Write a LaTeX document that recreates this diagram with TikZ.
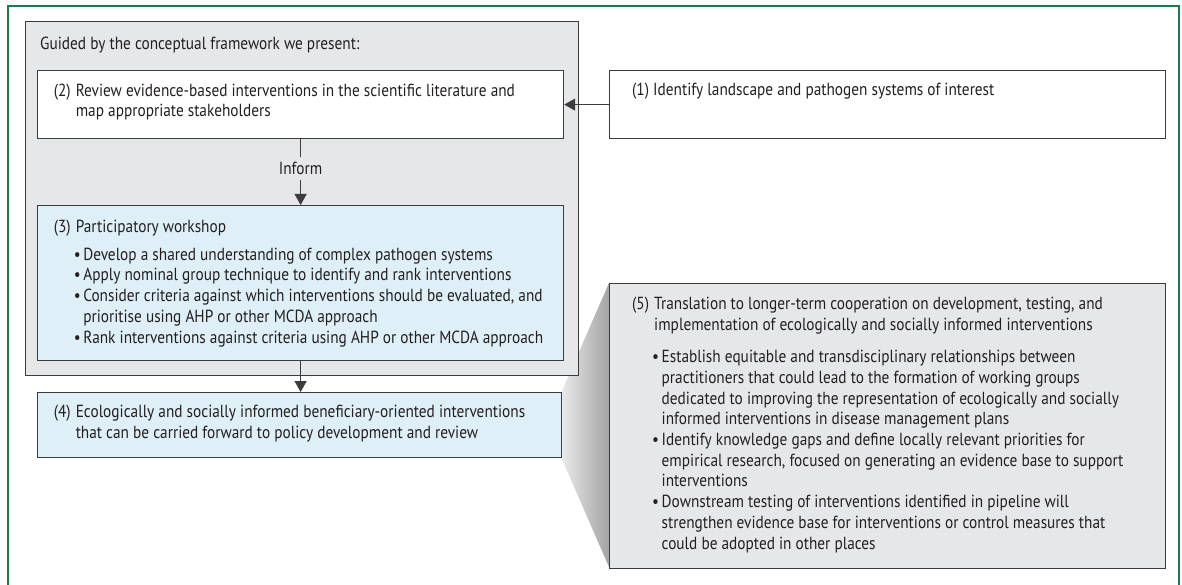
\documentclass[tikz,border=0pt]{standalone}
\usepackage{fontspec}
\setmainfont{PT Sans}[FakeStretch=0.875]
\usetikzlibrary{arrows.meta}
\definecolor{framegreen}{RGB}{28,122,78}
\definecolor{panelgray}{RGB}{230,231,233}
\definecolor{panelblue}{RGB}{222,239,247}
\definecolor{edgegray}{RGB}{60,60,62}
\definecolor{inkcol}{RGB}{35,31,32}
\newcommand{\lbl}[1]{\makebox[22pt][l]{#1}}
\newcommand{\hng}{\hspace*{22pt}}
\newcommand{\bul}{\makebox[7.5pt][l]{\kern-2pt•}}
\newcommand{\bhng}{\hspace*{7.5pt}}
\begin{document}
\begin{tikzpicture}[x=1pt,y=-1pt,
  boxshape/.style={draw=edgegray, line width=1.2pt, rectangle, inner sep=0pt, anchor=north west},
  txt/.style={align=left, anchor=west, inner sep=0pt, text=inkcol,
    font=\fontsize{17.5}{20.7}\selectfont},
  conn/.style={draw=edgegray, line width=1.2pt},
  tip/.style={-{Triangle[length=11pt,width=12pt]}}
]
\useasboundingbox (0,0) rectangle (1182,585);
\fill[white] (0,0) rectangle (1182,585);
% green frame (open at the bottom, runs past the page edge)
\draw[framegreen, line width=1.4pt] (8,595) -- (8,6) -- (1179,6) -- (1179,595);

% shaded wedge behind box 5
\shade[left color=white, right color=black!36] (547,425) -- (609,283) -- (609,567) -- cycle;

% outer gray panel
\node[boxshape, fill=panelgray, minimum width=553pt, minimum height=354pt] (outer) at (25,21) {};
\node[txt] (guided) at (40,45) {Guided by the conceptual framework we present:};

% box 2
\node[boxshape, fill=white, minimum width=526pt, minimum height=68pt] (b2) at (37,70) {};
\node[txt] (t2) at (53.6,102.3) {\strut\lbl{(2)}Review evidence-based interventions in the scientific literature and\\
\hng map appropriate stakeholders\strut};

% box 1
\node[boxshape, fill=white, minimum width=556pt, minimum height=68pt] (b1) at (609,70) {};
\node[txt] (t1) at (632,91.7) {\strut(1) Identify landscape and pathogen systems of interest\strut};

% box 3
\node[boxshape, fill=panelblue, minimum width=526pt, minimum height=155pt] (b3) at (37,205) {};
\node[txt] (t3) at (53.6,283.7) {\strut\lbl{(3)}Participatory workshop\\[7pt]
\hng\bul Develop a shared understanding of complex pathogen systems\\
\hng\bul Apply nominal group technique to identify and rank interventions\\
\hng\bul Consider criteria against which interventions should be evaluated, and\\
\hng\bhng prioritise using AHP or other MCDA approach\\
\hng\bul Rank interventions against criteria using AHP or other MCDA approach\strut};

% box 4
\node[boxshape, fill=panelblue, minimum width=524pt, minimum height=65pt] (b4) at (37,392) {};
\node[txt] (t4) at (53.6,424.2) {\strut\lbl{(4)}Ecologically and socially informed beneficiary-oriented interventions\\
\hng that can be carried forward to policy development and review\strut};

% box 5
\node[boxshape, fill=panelgray, minimum width=556pt, minimum height=285pt] (b5) at (609,283) {};
\node[txt] (t5) at (632,425.3) {\strut\lbl{(5)}Translation to longer-term cooperation on development, testing, and\\
\hng implementation of ecologically and socially informed interventions\\[11.6pt]
\hng\bul Establish equitable and transdisciplinary relationships between\\
\hng\bhng practitioners that could lead to the formation of working groups\\
\hng\bhng dedicated to improving the representation of ecologically and socially\\
\hng\bhng informed interventions in disease management plans\\
\hng\bul Identify knowledge gaps and define locally relevant priorities for\\
\hng\bhng empirical research, focused on generating an evidence base to support\\
\hng\bhng interventions\\
\hng\bul Downstream testing of interventions identified in pipeline will\\
\hng\bhng strengthen evidence base for interventions or control measures that\\
\hng\bhng could be adopted in other places\strut};

% connectors
\draw[conn, tip] (b1.west) -- (b2.east);
\draw[conn, tip] (b2.south) -- node[pos=0.45, fill=panelgray, inner xsep=2pt, inner ysep=5pt, text height=12pt, text depth=1pt, text=inkcol, font=\fontsize{17.5}{20.7}\selectfont] (inform) {Inform} (b3.north);
\draw[conn, tip] (b3.south) -- (b3.south |- b4.north);
\end{tikzpicture}
\end{document}
